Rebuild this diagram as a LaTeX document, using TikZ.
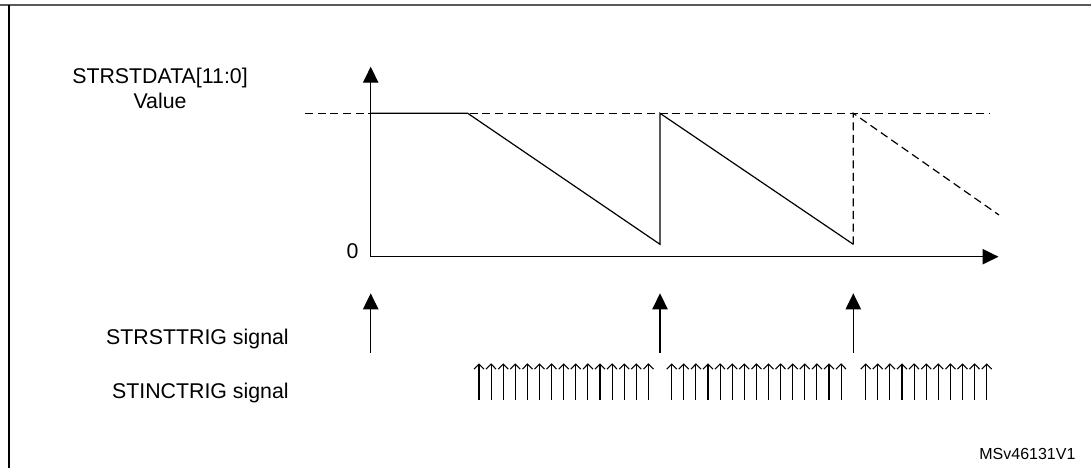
\documentclass[tikz,border=0pt]{standalone}
\usepackage{fontspec}
\setmainfont{Liberation Sans}
\usetikzlibrary{positioning,arrows.meta}

\begin{document}
\begin{tikzpicture}[
        x=0.75pt,
        y=-0.75pt,
        axis/.style={
            -{Triangle[length=12pt,width=11.5pt]},
            line width=0.9pt
        },
        wave/.style={
            line width=0.9pt
        },
        level/.style={
            line width=0.9pt,
            dash pattern=on 6pt off 3.5pt
        },
        rsttrig/.style={
            -{Triangle[length=12pt,width=11.5pt]},
            line width=0.9pt
        },
        inctrig/.style={
            -{Straight Barb[length=3.8pt,width=7.5pt]},
            line width=0.8pt
        },
        label/.style={
            inner sep=0pt,
            font=\fontsize{16}{18.3}\selectfont
        }
    ]
    \useasboundingbox (0,0) rectangle (1091,468);

    % Frame
    \draw[line width=1.5pt, black!65] (0,5) -- (1091,5);
    \draw[line width=1pt] (9,5) -- (9,468);

    % Axes
    \coordinate (origin) at (370.7,256.7);
    \coordinate (ytop) at (370.7,66.7);
    \coordinate (xend) at (998.5,256.7);
    \draw[axis] (origin) -- (ytop);
    \draw[axis] (origin) -- (xend);

    % Reload level
    \coordinate (lvlL) at (305,113.3);
    \coordinate (lvlR) at (990,113.3);
    \draw[level] (lvlL) -- (lvlR);

    % Counter value
    \coordinate (p0) at (370.7,113.3);
    \coordinate (p1) at (467.7,113.3);
    \coordinate (p2) at (660,244.3);
    \coordinate (p3) at (660,113.3);
    \coordinate (p4) at (853.3,244.3);
    \coordinate (p5) at (853.3,113.3);
    \coordinate (p6) at (999,215);
    \draw[wave] (p0) -- (p1) -- (p2) -- (p3) -- (p4);
    \draw[level] (p4) -- (p5) -- (p6);

    % Labels
    \node[label, align=center, anchor=base] (datalabel) at (160,108.3) {STRSTDATA[11:0]\\Value};
    \node[label, anchor=base] (zero) at (352.5,258.3) {0};
    \node[label, anchor=base east] (rstlabel) at (289,344) {STRSTTRIG signal};
    \node[label, anchor=base east] (inclabel) at (289,398) {STINCTRIG signal};
    \node[inner sep=0pt, anchor=base east, font=\fontsize{12}{14}\selectfont] (msv) at (1075.7,459.3) {MSv46131V1};

    % STRSTTRIG pulses
    \coordinate (rst1b) at (370.7,352.7);
    \coordinate (rst1t) at (370.7,293.3);
    \coordinate (rst2b) at (660,352.7);
    \coordinate (rst2t) at (660,293.3);
    \coordinate (rst3b) at (853.3,352.7);
    \coordinate (rst3t) at (853.3,293.3);
    \draw[rsttrig] (rst1b) -- (rst1t);
    \draw[rsttrig] (rst2b) -- (rst2t);
    \draw[rsttrig] (rst3b) -- (rst3t);

    % STINCTRIG pulses
    \foreach \start/\last in {479/14, 671.7/14, 865.7/10} {
        \foreach \i in {0,...,\last} {
            \coordinate (incb) at (\start+12.1*\i,400);
            \coordinate (inct) at (\start+12.1*\i,363.3);
            \draw[inctrig] (incb) -- (inct);
        }
    }

\end{tikzpicture}
\end{document}
